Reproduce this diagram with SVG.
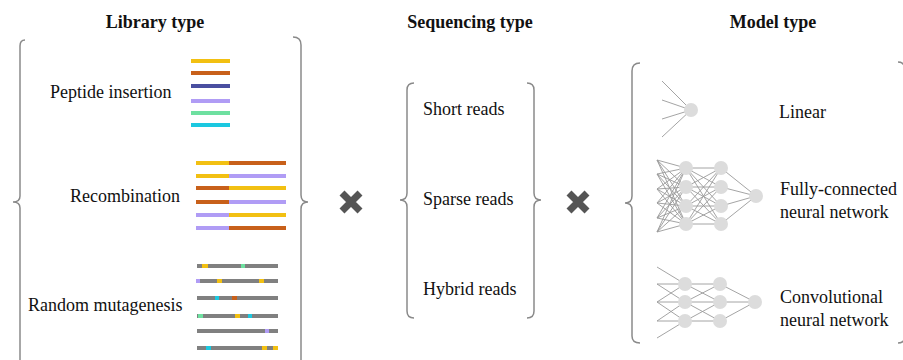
<svg xmlns="http://www.w3.org/2000/svg" width="903" height="360" viewBox="0 0 903 360">
<style>
.t{font-family:"Liberation Serif","Times New Roman",serif;font-size:18px;fill:#111}
.h{font-family:"Liberation Serif","Times New Roman",serif;font-size:18px;font-weight:bold;fill:#111}
.br{fill:none;stroke:#8a8a8a;stroke-width:1.5}
.x{stroke:#555;stroke-width:7}
.e{stroke:#9a9a9a;stroke-width:0.9;fill:none}
.n{fill:#dcdcdc}
.y{fill:#f2c012}.o{fill:#c8601a}.bl{fill:#4a4fa0}.l{fill:#b09cf5}.g{fill:#6ee0a0}.c{fill:#1bc8e0}.gr{fill:#808080}
</style>
<rect width="903" height="360" fill="#fff"/>
<g id="titles">
<text class="h" x="155" y="28" text-anchor="middle">Library type</text>
<text class="h" x="470" y="28" text-anchor="middle">Sequencing type</text>
<text class="h" x="773" y="28" text-anchor="middle">Model type</text>
</g>
<g id="braces">
<path class="br" d="M25,40 Q20,40 20,46 L20,196 Q20,202 13,202 Q20,202 20,208 L20,362"/>
<path class="br" d="M293,37 Q301,37 301,45 L301,195 Q301,202 308,202 Q301,202 301,209 L301,362"/>
<path class="br" d="M414,83 Q407,83 407,90 L407,193 Q407,200 400,200 Q407,200 407,207 L407,311 Q407,318 414,318"/>
<path class="br" d="M527,83 Q534,83 534,90 L534,193 Q534,200 541,200 Q534,200 534,207 L534,311 Q534,318 527,318"/>
<path class="br" d="M640,63 Q632,63 632,71 L632,196 Q632,203 625,203 Q632,203 632,210 L632,336 Q632,343 640,343"/>
<path class="br" d="M898,62 Q905,62 905,70 L905,336 Q905,343 898,343"/>
</g>
<g id="peptide-insertion">
<text class="t" x="50" y="98">Peptide insertion</text>
<rect class="y" x="191" y="59" width="39" height="4"/>
<rect class="o" x="191" y="71" width="39" height="4"/>
<rect class="bl" x="191" y="84" width="39" height="4"/>
<rect class="l" x="191" y="99" width="39" height="4"/>
<rect class="g" x="191" y="111" width="39" height="4"/>
<rect class="c" x="191" y="123" width="39" height="4"/>
</g>
<g id="recombination">
<text class="t" x="70" y="202">Recombination</text>
<rect class="y" x="196" y="161" width="33" height="4"/><rect class="o" x="229" y="161" width="57" height="4"/>
<rect class="y" x="196" y="174" width="33" height="4"/><rect class="l" x="229" y="174" width="57" height="4"/>
<rect class="o" x="196" y="186" width="33" height="4"/><rect class="y" x="229" y="186" width="57" height="4"/>
<rect class="o" x="196" y="200" width="33" height="4"/><rect class="l" x="229" y="200" width="57" height="4"/>
<rect class="l" x="196" y="213" width="33" height="4"/><rect class="y" x="229" y="213" width="57" height="4"/>
<rect class="l" x="196" y="226" width="33" height="4"/><rect class="o" x="229" y="226" width="57" height="4"/>
</g>
<g id="random-mutagenesis">
<text class="t" x="28" y="311">Random mutagenesis</text>
<rect class="gr" x="197" y="264" width="81" height="4"/>
<rect class="y" x="202" y="264" width="6" height="4"/><rect class="g" x="241" y="264" width="4" height="4"/>
<rect class="gr" x="197" y="279" width="81" height="4"/>
<rect class="l" x="196" y="279" width="4" height="4"/><rect class="y" x="217" y="279" width="5" height="4"/><rect class="y" x="259" y="279" width="5" height="4"/>
<rect class="gr" x="197" y="296" width="81" height="4"/>
<rect class="c" x="215" y="296" width="4" height="4"/><rect class="o" x="232" y="296" width="5" height="4"/>
<rect class="gr" x="197" y="314" width="81" height="4"/>
<rect class="g" x="198" y="314" width="5" height="4"/><rect class="y" x="235" y="314" width="5" height="4"/><rect class="c" x="248" y="314" width="4" height="4"/>
<rect class="gr" x="197" y="329" width="81" height="4"/>
<rect class="l" x="265" y="329" width="4" height="4"/>
<rect class="gr" x="197" y="346" width="81" height="4"/>
<rect class="c" x="206" y="346" width="5" height="4"/><rect class="y" x="262" y="346" width="5" height="4"/><rect class="y" x="273" y="346" width="5" height="4"/>
</g>
<g id="times-1"><path class="x" d="M342,193 L360,211 M360,193 L342,211"/></g>
<g id="sequencing">
<text class="t" x="423" y="115">Short reads</text>
<text class="t" x="423" y="205">Sparse reads</text>
<text class="t" x="423" y="295">Hybrid reads</text>
</g>
<g id="times-2"><path class="x" d="M569,193 L587,211 M587,193 L569,211"/></g>
<g id="connectors">
<path class="e" d="M662,81 L691,110 M662,100 L691,110 M662,119 L691,110 M662,137 L691,110"/>
<path class="e" d="M657,160 L686,168 M657,160 L686,187 M657,160 L686,206 M657,160 L686,224
M657,174 L686,168 M657,174 L686,187 M657,174 L686,206 M657,174 L686,224
M657,189 L686,168 M657,189 L686,187 M657,189 L686,206 M657,189 L686,224
M657,203 L686,168 M657,203 L686,187 M657,203 L686,206 M657,203 L686,224
M657,218 L686,168 M657,218 L686,187 M657,218 L686,206 M657,218 L686,224
M657,232 L686,168 M657,232 L686,187 M657,232 L686,206 M657,232 L686,224
M686,168 L721,168 M686,168 L721,187 M686,168 L721,206 M686,168 L721,224
M686,187 L721,168 M686,187 L721,187 M686,187 L721,206 M686,187 L721,224
M686,206 L721,168 M686,206 L721,187 M686,206 L721,206 M686,206 L721,224
M686,224 L721,168 M686,224 L721,187 M686,224 L721,206 M686,224 L721,224
M721,168 L756,196 M721,187 L756,196 M721,206 L756,196 M721,224 L756,196"/>
<path class="e" d="M657,267 L685,284 M657,284 L685,284 M657,302 L685,284
M657,284 L685,302 M657,302 L685,302 M657,321 L685,302
M657,302 L685,321 M657,321 L685,321 M657,338 L685,321
M685,284 L720,284 M685,284 L720,302 M685,302 L720,284 M685,302 L720,302 M685,302 L720,321 M685,321 L720,302 M685,321 L720,321
M720,284 L755,302 M720,302 L755,302 M720,321 L755,302"/>
</g>
<g id="linear">
<circle class="n" cx="691" cy="110" r="7"/>
<text class="t" x="779" y="118">Linear</text>
</g>
<g id="fully-connected">
<circle class="n" cx="686" cy="168" r="7"/><circle class="n" cx="686" cy="187" r="7"/><circle class="n" cx="686" cy="206" r="7"/><circle class="n" cx="686" cy="224" r="7"/>
<circle class="n" cx="721" cy="168" r="7"/><circle class="n" cx="721" cy="187" r="7"/><circle class="n" cx="721" cy="206" r="7"/><circle class="n" cx="721" cy="224" r="7"/>
<circle class="n" cx="756" cy="196" r="7"/>
<text class="t" x="780" y="195">Fully-connected</text>
<text class="t" x="780" y="218">neural network</text>
</g>
<g id="convolutional">
<circle class="n" cx="685" cy="284" r="7"/><circle class="n" cx="685" cy="302" r="7"/><circle class="n" cx="685" cy="321" r="7"/>
<circle class="n" cx="720" cy="284" r="7"/><circle class="n" cx="720" cy="302" r="7"/><circle class="n" cx="720" cy="321" r="7"/>
<circle class="n" cx="755" cy="302" r="7"/>
<text class="t" x="780" y="303">Convolutional</text>
<text class="t" x="780" y="326">neural network</text>
</g>
</svg>
